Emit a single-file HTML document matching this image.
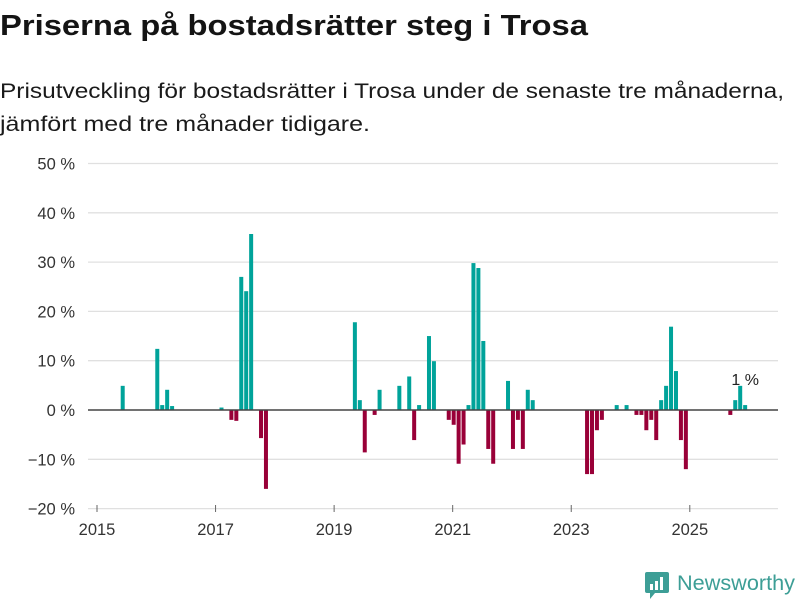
<!DOCTYPE html>
<html><head><meta charset="utf-8"><style>
html,body{margin:0;padding:0;background:#fff;}
svg{display:block;font-family:"Liberation Sans",sans-serif;}
</style></head><body>
<svg id="chart" width="800" height="600" viewBox="0 0 800 600">
<text x="0" y="35" font-size="29" font-weight="bold" fill="#141414" textLength="588" lengthAdjust="spacingAndGlyphs">Priserna på bostadsrätter steg i Trosa</text>
<text x="0" y="98" font-size="21" fill="#1a1a1a" textLength="784" lengthAdjust="spacingAndGlyphs">Prisutveckling för bostadsrätter i Trosa under de senaste tre månaderna,</text>
<text x="0" y="131" font-size="21" fill="#1a1a1a" textLength="370" lengthAdjust="spacingAndGlyphs">jämfört med tre månader tidigare.</text>
<g id="grid"></g><g id="bars"></g><g id="axis"></g>
<g>
<rect x="645" y="572" width="24" height="21" rx="2" fill="#3d9e96"/>
<path d="M650 593 L655 593 L650 599 Z" fill="#3d9e96"/>
<rect x="650" y="584" width="3" height="6" fill="#fff"/><rect x="655" y="581" width="3" height="9" fill="#fff"/><rect x="660" y="577" width="3" height="13" fill="#fff"/>
<text x="677" y="590" font-size="21" fill="#3d9e96" textLength="118" lengthAdjust="spacingAndGlyphs">Newsworthy</text>
</g>
</svg>
<script>
const months=[5,12,13,14,15,25,27,28,29,30,31,33,34,52,53,54,56,57,61,63,64,65,67,68,71,72,73,74,75,76,77,78,79,80,83,84,85,86,87,88,99,100,101,102,105,107,109,110,111,112,113,114,115,116,117,118,119,128,129,130,131];
const values=[4.9,12.4,1.0,4.1,0.8,0.5,-2.0,-2.2,27.0,24.1,35.7,-5.7,-16,17.8,2.0,-8.6,-1.0,4.1,4.9,6.8,-6.1,1.0,15.0,9.9,-2.0,-3.0,-10.9,-7.0,1.0,29.8,28.8,14.0,-7.9,-10.9,5.9,-7.9,-2.0,-7.9,4.1,2.0,-13,-13,-4.1,-2.0,1.0,1.0,-1.0,-1.0,-4.1,-2.0,-6.1,2.0,4.9,16.9,7.9,-6.1,-12,-1.0,2.0,4.9,1.0];
const yTicks=[-20,-10,0,10,20,30,40,50];
const yTickLabels=["−20 %","−10 %","0 %","10 %","20 %","30 %","40 %","50 %"];
const xYears=[2015,2017,2019,2021,2023,2025];
const NS="http://www.w3.org/2000/svg";
const y=v=>410-v*4.93;
const x=m=>97+m*4.94;
const grid=document.getElementById('grid'),bars=document.getElementById('bars'),axis=document.getElementById('axis');
function mk(t,a,p){const e=document.createElementNS(NS,t);for(const k in a)e.setAttribute(k,a[k]);p.appendChild(e);return e;}
yTicks.forEach((t,i)=>{
 if(t!==0){const l=mk('line',{x1:88,x2:778,y1:y(t),y2:y(t),stroke:'#e0e0e0','stroke-width':1.3},grid);
 
 }
 const tx=mk('text',{x:75,y:y(t)+6,'font-size':16.5,fill:'#333','text-anchor':'end'},axis);
 tx.textContent=yTickLabels[i];
 
 
});
months.forEach((m,i)=>{
 const v=values[i];
 const r=mk('rect',{x:x(m)-1,width:4,y:Math.min(y(v),y(0)),height:Math.abs(y(v)-y(0)),fill:v>=0?'#00a39a':'#990038'},bars);
 
 
});
const z=mk('line',{x1:88,x2:778,y1:y(0),y2:y(0),stroke:'#444','stroke-width':1.6},axis);


xYears.forEach(yr=>{
 const m=(yr-2015)*12;
 const tk=mk('line',{x1:x(m),x2:x(m),y1:505,y2:512,stroke:'#666','stroke-width':1},axis);
 
 
 const tx=mk('text',{x:x(m),y:535,'font-size':16.5,fill:'#333','text-anchor':'middle'},axis);
 tx.textContent=yr;
 
 
});
const li=months.length-1;
const lab=mk('text',{x:x(months[li])+1,y:y(values[li])-20,'font-size':16,fill:'#222','text-anchor':'middle'},axis);
lab.textContent=Math.round(values[li])+' %';


</script>
</body></html>
